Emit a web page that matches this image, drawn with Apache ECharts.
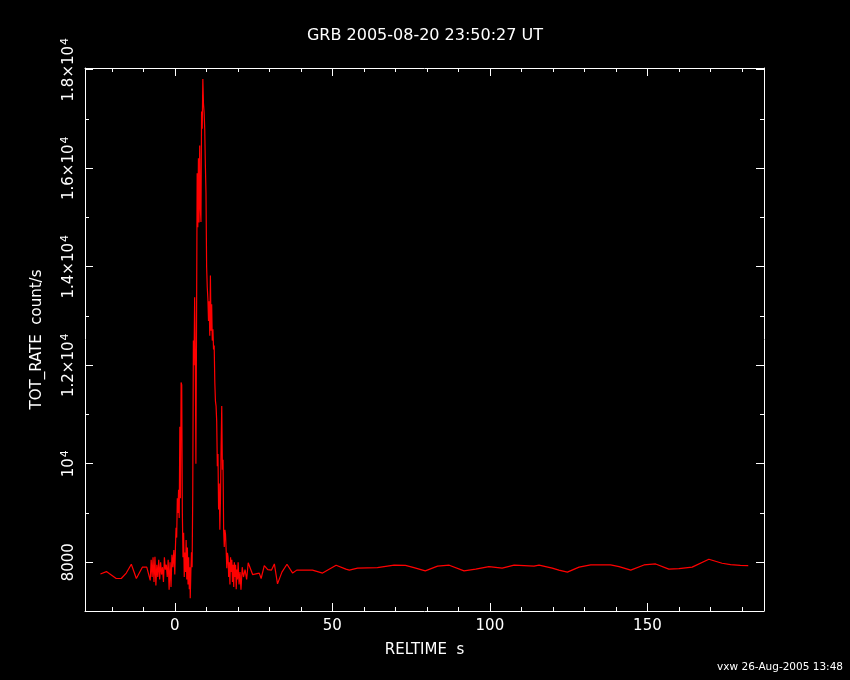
<!DOCTYPE html>
<html><head><meta charset="utf-8">
<script src="https://cdn.jsdelivr.net/npm/echarts@6/dist/echarts.min.js"></script>
<style>html,body{margin:0;padding:0;background:#000;}#c{width:850px;height:680px;}</style>
</head><body><div id="c"></div>
<script>
// Light-curve data (RELTIME s, TOT_RATE count/s)
const relTime = [
 -23.6,-21.7,-18.6,-17.0,-15.4,-13.8,-12.2,-10.3,-8.9,-7.8,
 -7.5,-7.2,-6.9,-6.6,-6.3,-6.0,-5.7,-5.4,-5.1,-4.8,
 -4.5,-4.2,-3.9,-3.6,-3.3,-3.0,-2.7,-2.4,-2.1,-1.8,
 -1.5,-1.2,-0.9,-0.6,-0.3,0.0,0.2,0.4,0.6,0.8,
 1.0,1.2,1.4,1.6,1.8,2.0,2.2,2.4,2.6,2.8,
 3.0,3.2,3.4,3.6,3.8,4.0,4.2,4.4,4.6,4.8,
 4.9,5.1,5.3,5.5,5.7,5.9,6.1,6.3,6.5,6.7,
 6.9,7.1,7.3,7.5,7.7,7.9,8.1,8.3,8.5,8.7,
 8.9,9.1,9.3,9.5,9.7,9.9,10.1,10.3,10.5,10.7,
 10.9,11.1,11.3,11.5,11.7,11.9,12.1,12.3,12.5,12.7,
 12.9,13.1,13.3,13.5,13.7,13.9,14.1,14.3,14.5,14.7,
 14.9,15.1,15.3,15.5,15.7,15.9,16.1,16.3,16.5,16.7,
 16.9,17.1,17.3,17.5,17.7,17.9,18.1,18.3,18.5,18.7,
 18.9,19.1,19.3,19.5,19.7,19.9,20.1,20.4,20.7,21.0,
 21.4,21.8,22.3,22.8,23.3,24.7,26.8,27.4,28.4,29.5,
 30.7,31.6,32.6,34.0,35.6,37.4,38.7,43.7,46.9,51.2,
 54.3,55.4,58.0,64.3,69.6,73.2,75.9,79.5,83.4,87.1,
 91.8,95.5,99.7,103.9,107.7,114.0,115.6,119.8,121.9,124.6,
 128.3,132.0,138.3,141.0,144.7,148.9,152.6,156.8,160.0,164.2,
 169.5,173.7,176.4,179.5,182.0
];
const totRate = [
 7760,7810,7670,7670,7780,7960,7670,7900,7900,7630,
 8050,7700,8100,7600,8110,7530,7950,7700,8050,7650,
 8000,7750,7900,7600,8100,7850,7950,7700,8050,7440,
 8000,7500,8150,7900,8250,7750,8300,8700,8500,9300,
 9000,9470,8900,10750,9300,11650,11600,9000,8100,8600,
 7700,8200,7800,8450,7650,8300,7550,8100,7450,7900,
 7270,7800,8200,7900,9440,12500,12000,13380,12200,10000,
 12800,15900,14800,16200,14900,16460,15200,14910,17150,16800,
 17810,17310,17140,16790,16070,15500,14000,13590,13350,12900,
 13300,12600,13820,12700,13240,12500,12730,12320,12400,11650,
 11270,11170,10860,9950,10200,9070,9600,8660,9300,10350,
 11170,9880,10080,8660,8310,8660,8560,8250,7880,8190,
 8110,7700,8000,7550,8100,7800,8050,7600,7950,7500,
 8000,7700,7950,7450,7850,7650,8000,7550,7800,7440,
 7900,7700,7850,7650,7990,7750,7780,7670,7930,7850,
 7840,7965,7560,7800,7960,7780,7840,7840,7780,7940,
 7860,7840,7880,7890,7940,7935,7890,7825,7920,7940,
 7825,7860,7910,7880,7940,7920,7940,7880,7840,7800,
 7900,7945,7945,7910,7840,7945,7965,7860,7870,7900,
 8060,7980,7950,7935,7930
];
const xMajorTicks = [0, 50, 100, 150];
const xMinorTicks = [-20,-10,10,20,30,40,60,70,80,90,110,120,130,140,160,170,180];
const yMajorTicks = [8000, 10000, 12000, 14000, 16000, 18000];
const yMinorTicks = [9000, 11000, 13000, 15000, 17000];
const yLabelMantissa = ['8000', '10', '1.2×10', '1.4×10', '1.6×10', '1.8×10'];
const yLabelExponent = ['', '4', '4', '4', '4', '4'];
const titleText = 'GRB 2005-08-20 23:50:27 UT';
const xName = 'RELTIME  s';
const yName = 'TOT_RATE  count/s';
const footerText = 'vxw 26-Aug-2005 13:48';

const X_MIN = -28.5, X_MAX = 187, Y_MIN = 7010, Y_MAX = 18035;
const FONT = 'DejaVu Sans';
const W = '#ffffff';

const seriesData = relTime.map((t, i) => [t, totRate[i]]);

function xAx(pos, ticks, len, showLine, showLabel) {
  return {
    type: 'value', position: pos, min: X_MIN, max: X_MAX, scale: true,
    axisLine: { show: showLine, onZero: false, lineStyle: { color: W, width: 1 } },
    axisTick: { show: true, inside: true, length: len, customValues: ticks, lineStyle: { color: W, width: 1 } },
    axisLabel: { show: showLabel, customValues: ticks, color: W, fontFamily: FONT, fontSize: 15, margin: 8 },
    splitLine: { show: false }
  };
}
function yAx(pos, ticks, len, showLine, showLabel) {
  return {
    type: 'value', position: pos, min: Y_MIN, max: Y_MAX, scale: true,
    axisLine: { show: showLine, onZero: false, lineStyle: { color: W, width: 1 } },
    axisTick: { show: true, inside: true, length: len, customValues: ticks, lineStyle: { color: W, width: 1 } },
    axisLabel: {
      show: showLabel, customValues: ticks, rotate: 90, margin: 7, color: W,
      fontFamily: FONT, fontSize: 15,
      formatter: function (v) {
        const i = yMajorTicks.indexOf(Math.round(v));
        if (i < 0) return '';
        if (!yLabelExponent[i]) return '{m|' + yLabelMantissa[i] + '}';
        return '{m|' + yLabelMantissa[i] + '}{s|' + yLabelExponent[i] + '}';
      },
      rich: {
        m: { color: W, fontFamily: FONT, fontSize: 15, lineHeight: 18 },
        s: { color: W, fontFamily: FONT, fontSize: 11, lineHeight: 18, verticalAlign: 'top', padding: [0, 0, 6, 1] }
      }
    },
    splitLine: { show: false }
  };
}

const xAxes = [
  xAx('bottom', xMajorTicks, 8, true, true),
  xAx('bottom', xMinorTicks, 4, false, false),
  xAx('top', xMajorTicks, 8, true, false),
  xAx('top', xMinorTicks, 4, false, false)
];
xAxes[0].name = xName;
xAxes[0].nameLocation = 'middle';
xAxes[0].nameGap = 32;
xAxes[0].nameTextStyle = { color: W, fontFamily: FONT, fontSize: 15 };

const yAxes = [
  yAx('left', yMajorTicks, 8, true, true),
  yAx('left', yMinorTicks, 4, false, false),
  yAx('right', yMajorTicks, 8, true, false),
  yAx('right', yMinorTicks, 4, false, false)
];
yAxes[0].name = yName;
yAxes[0].nameLocation = 'middle';
yAxes[0].nameRotate = 90;
yAxes[0].nameGap = 40;
yAxes[0].nameTextStyle = { color: W, fontFamily: FONT, fontSize: 15 };

const chart = echarts.init(document.getElementById('c'), null, { renderer: 'canvas' });
chart.setOption({
  backgroundColor: '#000000',
  animation: false,
  title: {
    text: titleText, left: 'center', top: 23,
    textStyle: { color: W, fontFamily: FONT, fontSize: 16, fontWeight: 'normal' }
  },
  grid: { left: 85, right: 86, top: 68, bottom: 69, containLabel: false },
  xAxis: xAxes,
  yAxis: yAxes,
  graphic: [{
    type: 'text', right: 7, top: 662,
    style: { text: footerText, fill: W, font: '10.5px "DejaVu Sans"' }
  }],
  series: [{
    type: 'line', xAxisIndex: 0, yAxisIndex: 0,
    data: seriesData, showSymbol: false, symbol: 'none',
    lineStyle: { color: '#ff0000', width: 1.2 },
    itemStyle: { color: '#ff0000' },
    clip: true
  }]
});
</script></body></html>
